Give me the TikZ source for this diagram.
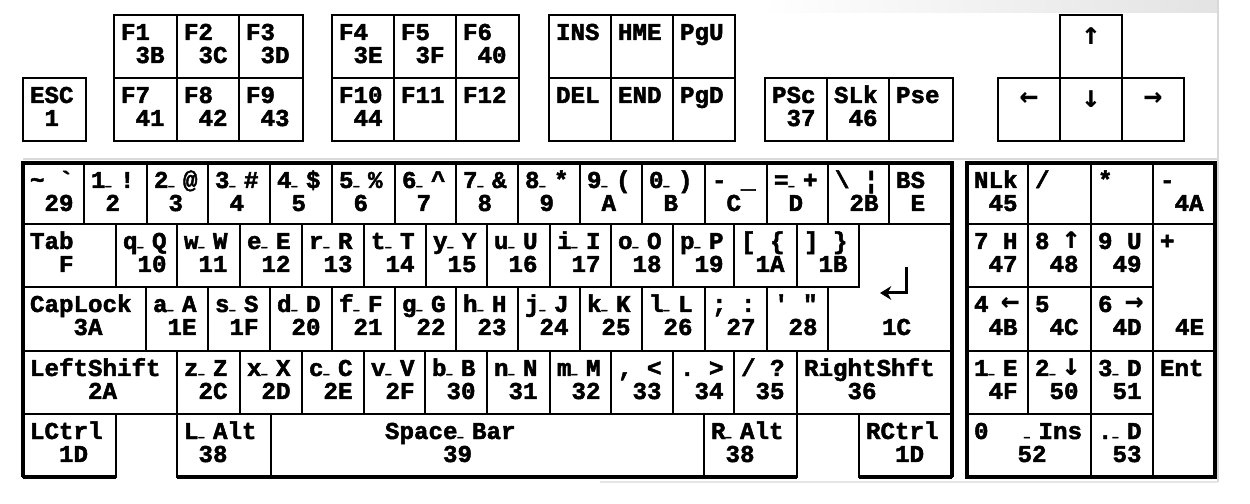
\documentclass[tikz,border=0pt]{standalone}
\usepackage{fontspec}
\usepackage{graphicx}
\usetikzlibrary{fit,arrows.meta}
\newfontfamily\kf{Liberation Mono}[BoldFeatures={FakeBold=2}]
\newfontfamily\af{DejaVu Sans Mono}
\newcommand\kgap{\hbox to 0.6em{\hfil}}
\newcommand\us{\makebox[0.6em][l]{\raisebox{0.14em}{\scalebox{0.4}[1]{\_}}}}
\newcommand\karr[1]{\makebox[5.8pt]{\af\bfseries\fontsize{12.5}{12}\selectfont #1}}
\tikzset{
  keyrect/.style={draw=black, line width=1.05pt, inner sep=0pt, outer sep=0pt},
  lab/.style={anchor=base west, inner sep=0pt, outer sep=0pt, font=\kf\bfseries\fontsize{9.67}{10}\selectfont},
  arr/.style={anchor=center, inner sep=0pt, outer sep=0pt, font=\af\bfseries\fontsize{12.5}{12}\selectfont},
  block/.style={draw=black, line width=1.35pt},
  artifact/.style={draw=gray!30, line width=0.6pt},
}
% name, x1, y1, x2, y2, line1, line2
\newcommand\key[7]{%
  \node[keyrect, fit={(#2,#3) (#4,#5)}] (#1) {};
  \node[lab] (#1-a) at ({#2+7},{#3+25}) {#6};
  \node[lab] (#1-b) at ({#2+7},{#3+48}) {#7};}
\newcommand\keya[6]{%
  \node[keyrect, fit={(#2,#3) (#4,#5)}] (#1) {};
  \node[lab] (#1-a) at ({#2+7},{#3+25}) {#6};}
\newcommand\keyc[6]{%
  \node[keyrect, fit={(#2,#3) (#4,#5)}] (#1) {};
  \node[arr] (#1-a) at ({(#2+#4)/2},{#3+21}) {#6};}
\begin{document}
\begin{tikzpicture}[x=0.4pt, y=-0.4pt]
\fill[white] (0,0) rectangle (1250,504);
\useasboundingbox (0,0) rectangle (1250,504);
% screenshot artifacts
\shade[left color=white, right color=gray!22] (760,0) rectangle (1218,13);
\draw[artifact] (23,159) -- (1218,159);
\draw[artifact] (1218,0) -- (1218,482);
\draw[draw=gray!20, line width=1pt] (600,482) -- (1218,482);

% ---------- top section ----------
\key{esc}{23}{78}{86}{141}{ESC}{\kgap 1}
\key{f1}{114}{15}{177}{78}{F1}{\kgap 3B}
\key{f2}{177}{15}{239}{78}{F2}{\kgap 3C}
\key{f3}{239}{15}{303}{78}{F3}{\kgap 3D}
\key{f7}{114}{78}{177}{141}{F7}{\kgap 41}
\key{f8}{177}{78}{239}{141}{F8}{\kgap 42}
\key{f9}{239}{78}{303}{141}{F9}{\kgap 43}
\key{f4}{332}{15}{394}{78}{F4}{\kgap 3E}
\key{f5}{394}{15}{456}{78}{F5}{\kgap 3F}
\key{f6}{456}{15}{519}{78}{F6}{\kgap 40}
\key{f10}{332}{78}{394}{141}{F10}{\kgap 44}
\keya{f11}{394}{78}{456}{141}{F11}
\keya{f12}{456}{78}{519}{141}{F12}
\keya{ins}{549}{15}{611}{78}{INS}
\keya{hme}{611}{15}{673}{78}{HME}
\keya{pgu}{673}{15}{735}{78}{PgU}
\keya{del}{549}{78}{611}{141}{DEL}
\keya{endk}{611}{78}{673}{141}{END}
\keya{pgd}{673}{78}{735}{141}{PgD}
\key{psc}{765}{78}{827}{141}{PSc}{\kgap 37}
\key{slk}{827}{78}{889}{141}{SLk}{\kgap 46}
\keya{pse}{889}{78}{953}{141}{Pse}
\keyc{up}{1060}{15}{1122}{78}{↑}
\keyc{left}{998}{78}{1060}{141}{←}
\keyc{down}{1060}{78}{1122}{141}{↓}
\keyc{right}{1122}{78}{1184}{141}{→}

% ---------- main block row 1 ----------
\key{k29}{23}{163}{84}{224}{\textasciitilde\kgap\textasciigrave}{\kgap 29}
\key{k02}{84}{163}{147}{224}{1\us !}{\kgap 2}
\key{k03}{147}{163}{208}{224}{2\us @}{\kgap 3}
\key{k04}{208}{163}{270}{224}{3\us\#}{\kgap 4}
\key{k05}{270}{163}{332}{224}{4\us\$}{\kgap 5}
\key{k06}{332}{163}{395}{224}{5\us\%}{\kgap 6}
\key{k07}{395}{163}{456}{224}{6\us\textasciicircum}{\kgap 7}
\key{k08}{456}{163}{518}{224}{7\us\&}{\kgap 8}
\key{k09}{518}{163}{580}{224}{8\us *}{\kgap 9}
\key{k0A}{580}{163}{642}{224}{9\us (}{\kgap A}
\key{k0B}{642}{163}{705}{224}{0\us )}{\kgap B}
\key{k0C}{705}{163}{767}{224}{-\kgap\_}{\kgap C}
\key{k0D}{767}{163}{828}{224}{=\us +}{\kgap D}
\key{k2B}{828}{163}{889}{224}{\textbackslash\kgap ¦}{\kgap 2B}
\key{k0E}{889}{163}{952}{224}{BS}{\kgap E}
% row 2
\key{k0F}{23}{224}{116}{287}{Tab}{\kgap\kgap F}
\key{k10}{116}{224}{177}{287}{q\us Q}{\kgap 10}
\key{k11}{177}{224}{240}{287}{w\us W}{\kgap 11}
\key{k12}{240}{224}{302}{287}{e\us E}{\kgap 12}
\key{k13}{302}{224}{364}{287}{r\us R}{\kgap 13}
\key{k14}{364}{224}{426}{287}{t\us T}{\kgap 14}
\key{k15}{426}{224}{487}{287}{y\us Y}{\kgap 15}
\key{k16}{487}{224}{550}{287}{u\us U}{\kgap 16}
\key{k17}{550}{224}{611}{287}{i\us I}{\kgap 17}
\key{k18}{611}{224}{673}{287}{o\us O}{\kgap 18}
\key{k19}{673}{224}{734}{287}{p\us P}{\kgap 19}
\key{k1A}{734}{224}{797}{287}{[\kgap\{}{\kgap 1A}
\key{k1B}{797}{224}{859}{287}{]\kgap\}}{\kgap 1B}
% row 3
\key{k3A}{23}{287}{146}{351}{CapLock}{\kgap\kgap\kgap 3A}
\key{k1E}{146}{287}{208}{351}{a\us A}{\kgap 1E}
\key{k1F}{208}{287}{270}{351}{s\us S}{\kgap 1F}
\key{k20}{270}{287}{332}{351}{d\us D}{\kgap 20}
\key{k21}{332}{287}{395}{351}{f\us F}{\kgap 21}
\key{k22}{395}{287}{456}{351}{g\us G}{\kgap 22}
\key{k23}{456}{287}{518}{351}{h\us H}{\kgap 23}
\key{k24}{518}{287}{580}{351}{j\us J}{\kgap 24}
\key{k25}{580}{287}{642}{351}{k\us K}{\kgap 25}
\key{k26}{642}{287}{705}{351}{l\us L}{\kgap 26}
\key{k27}{705}{287}{767}{351}{;\kgap :}{\kgap 27}
\key{k28}{767}{287}{828}{351}{\textquotesingle\kgap\textquotedbl}{\kgap 28}
% enter (L-shaped)
\draw[keyrect] (859,224) -- (952,224) -- (952,351) -- (828,351) -- (828,287) -- (859,287) -- cycle;
\coordinate (entA) at (906,267);
\coordinate (entB) at (906,293);
\coordinate (entC) at (880,293);
\draw[line width=1.2pt, -{Stealth[length=4.5pt,width=5.5pt]}] (entA) -- (entB) -- (entC);
\node[lab] (k1C) at (882,335) {1C};
% row 4
\key{k2A}{23}{351}{177}{414}{LeftShift}{\kgap\kgap\kgap\kgap 2A}
\key{k2C}{177}{351}{240}{414}{z\us Z}{\kgap 2C}
\key{k2D}{240}{351}{302}{414}{x\us X}{\kgap 2D}
\key{k2E}{302}{351}{364}{414}{c\us C}{\kgap 2E}
\key{k2F}{364}{351}{425}{414}{v\us V}{\kgap 2F}
\key{k30}{425}{351}{487}{414}{b\us B}{\kgap 30}
\key{k31}{487}{351}{550}{414}{n\us N}{\kgap 31}
\key{k32}{550}{351}{611}{414}{m\us M}{\kgap 32}
\key{k33}{611}{351}{673}{414}{,\kgap <}{\kgap 33}
\key{k34}{673}{351}{734}{414}{.\kgap >}{\kgap 34}
\key{k35}{734}{351}{797}{414}{/\kgap ?}{\kgap 35}
\key{k36}{797}{351}{952}{414}{RightShft}{\kgap\kgap\kgap 36}
% row 5
\key{k1D}{23}{414}{116}{477}{LCtrl}{\kgap\kgap 1D}
\key{k38}{177}{414}{271}{477}{L\us Alt}{\kgap 38}
\node[keyrect, fit={(271,414) (704,477)}] (k39) {};
\node[lab] (k39-a) at (385,439) {Space\us Bar};
\node[lab] (k39-b) at (385,462) {\kgap\kgap\kgap\kgap 39};
\key{kR38}{704}{414}{797}{477}{R\us Alt}{\kgap 38}
\key{kR1D}{859}{414}{952}{477}{RCtrl}{\kgap\kgap 1D}
% outer outline of main block
\draw[block] (23,477) -- (23,163) -- (952,163) -- (952,477);
\draw[block] (23,477) -- (116,477);
\draw[block] (177,477) -- (797,477);
\draw[block] (859,477) -- (952,477);

% ---------- numeric keypad ----------
\key{k45}{967}{163}{1028}{224}{NLk}{\kgap 45}
\keya{kdiv}{1028}{163}{1091}{224}{/}
\keya{kmul}{1091}{163}{1153}{224}{*}
\key{k4A}{1153}{163}{1215}{224}{-}{\kgap 4A}
\key{k47}{967}{224}{1028}{287}{7\kgap H}{\kgap 47}
\key{k48}{1028}{224}{1091}{287}{8\kgap\karr{↑}}{\kgap 48}
\key{k49}{1091}{224}{1153}{287}{9\kgap U}{\kgap 49}
\keya{k4E}{1153}{224}{1215}{351}{+}
\node[lab] (k4E-b) at (1175,335) {4E};
\key{k4B}{967}{287}{1028}{351}{4\kgap\karr{←}}{\kgap 4B}
\key{k4C}{1028}{287}{1091}{351}{5}{\kgap 4C}
\key{k4D}{1091}{287}{1153}{351}{6\kgap\karr{→}}{\kgap 4D}
\key{k4F}{967}{351}{1028}{414}{1\us E}{\kgap 4F}
\key{k50}{1028}{351}{1091}{414}{2\us\karr{↓}}{\kgap 50}
\key{k51}{1091}{351}{1153}{414}{3\us D}{\kgap 51}
\keya{kent}{1153}{351}{1215}{477}{Ent}
\key{k52}{967}{414}{1091}{477}{0}{\kgap\kgap\kgap 52}
\node[lab] (k52-c) at (1024,439) {\us Ins};
\key{k53}{1091}{414}{1153}{477}{.\us D}{\kgap 53}
\draw[block] (967,163) rectangle (1215,477);
\end{tikzpicture}
\end{document}
